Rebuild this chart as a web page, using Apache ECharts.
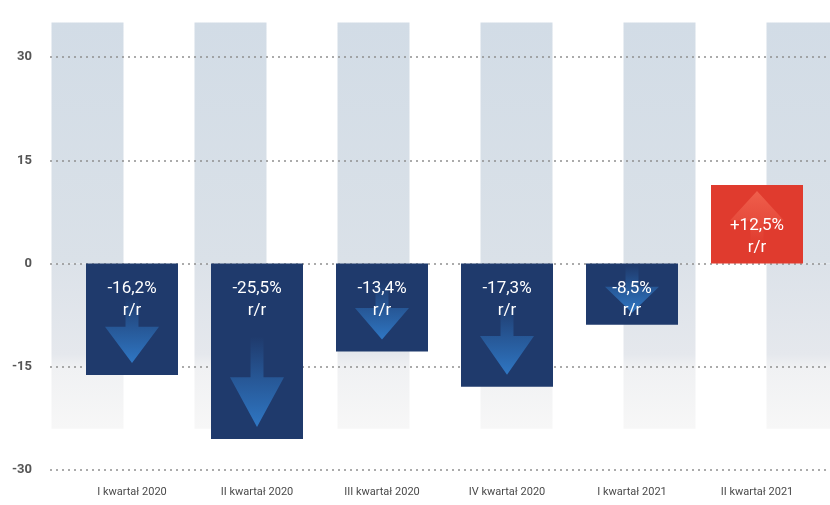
<!DOCTYPE html>
<html>
<head>
<meta charset="utf-8">
<script src="https://cdn.jsdelivr.net/npm/echarts@6/dist/echarts.min.js"></script>
<style>
  html, body { margin: 0; padding: 0; background: #fff; }
  #chart { width: 830px; height: 505px; }
</style>
</head>
<body>
<div id="chart"></div>
<script>
// data
var quarters = ['I kwartał 2020', 'II kwartał 2020', 'III kwartał 2020', 'IV kwartał 2020', 'I kwartał 2021', 'II kwartał 2021'];
var change = [-16.2, -25.5, -13.4, -17.3, -8.5, 12.5];        // printed labels
var barHeight = [-16.2, -25.5, -12.8, -17.9, -8.9, 11.4];     // as drawn in the picture
var yTicks = [-30, -15, 0, 15, 30];
// decorative grey columns behind the bars
var bgTop = [35, 35, 35, 35, 35, 35];
var bgBottom = [-24, -24, -24, -24, -24, -24];

var upArrow = 'path://M50,0 L100,55 L62,55 L62,100 L38,100 L38,55 L0,55 Z';

var fmt = function (v) {
  return (v > 0 ? '+' : '') + v.toFixed(1).replace('.', ',') + '%\nr/r';
};

var grad = function (stops) {
  return new echarts.graphic.LinearGradient(0, 0, 0, 1, stops);
};

var chart = echarts.init(document.getElementById('chart'));
var option = {
  animation: false,
  backgroundColor: '#ffffff',
  grid: [
    { left: 16, width: 858, top: 57, bottom: 35, outerBoundsMode: 'none' },
    { left: 50, right: 0, top: 57, bottom: 35, outerBoundsMode: 'none' },
    { left: 69.5, width: 750, top: 57, bottom: 35, outerBoundsMode: 'none' }
  ],
  xAxis: [
    { gridIndex: 0, type: 'category', data: quarters, show: false },
    { gridIndex: 1, type: 'value', show: false },
    {
      gridIndex: 2, type: 'category', data: quarters,
      axisLine: { show: false }, axisTick: { show: false },
      axisLabel: { color: '#4a4a4a', fontSize: 11, fontFamily: 'Roboto', margin: 17 }
    }
  ],
  yAxis: [
    { gridIndex: 0, type: 'value', min: -30, max: 30, show: false },
    {
      gridIndex: 1, type: 'value', min: yTicks[0], max: yTicks[yTicks.length - 1], interval: 15, z: 2,
      axisLine: { show: false }, axisTick: { show: false },
      axisLabel: { color: '#555', fontSize: 13, fontWeight: 'bold', fontFamily: 'Roboto', margin: 18 },
      splitLine: { lineStyle: { color: '#909090', type: [2, 4], width: 1.5 } }
    },
    { gridIndex: 2, type: 'value', min: -30, max: 30, show: false }
  ],
  series: [
    {
      type: 'bar', xAxisIndex: 0, yAxisIndex: 0, data: bgTop, barWidth: 72, barGap: '-100%', z: 1,
      clip: false, silent: true,
      itemStyle: { color: grad([{ offset: 0, color: '#d2dce6' }, { offset: 1, color: '#dae1e8' }]) }
    },
    {
      type: 'bar', xAxisIndex: 0, yAxisIndex: 0, data: bgBottom, barWidth: 72, z: 1, silent: true,
      itemStyle: {
        color: grad([
          { offset: 0, color: '#dce2e9' },
          { offset: 0.55, color: '#e5e8ed' },
          { offset: 0.63, color: '#f0f1f3' },
          { offset: 1, color: '#f7f7f7' }
        ])
      }
    },
    {
      type: 'bar', xAxisIndex: 2, yAxisIndex: 2, barWidth: 92, barGap: '-100%', z: 3,
      data: barHeight.map(function (v) {
        return { value: v, itemStyle: { color: v < 0 ? '#1f3a6c' : '#e03b2e' } };
      })
    },
    {
      // pictorialBar flips the symbol for negative values, so one up-pointing path serves both
      type: 'pictorialBar', xAxisIndex: 2, yAxisIndex: 2, z: 4, symbolPosition: 'end', symbol: upArrow,
      symbolSize: function (v) { return [54, Math.abs(v) * 2.6 + 24]; },
      data: barHeight.map(function (v) {
        return {
          value: v,
          symbolOffset: [0, v < 0 ? -12 : 6],
          itemStyle: {
            color: v < 0
              ? grad([{ offset: 0, color: '#2f77c4' }, { offset: 0.5, color: 'rgba(46,115,190,0.55)' }, { offset: 1, color: 'rgba(46,115,190,0)' }])
              : grad([{ offset: 0, color: '#ef5f4c' }, { offset: 0.6, color: 'rgba(236,90,72,0.5)' }, { offset: 1, color: 'rgba(236,90,72,0)' }])
          }
        };
      })
    },
    {
      type: 'bar', xAxisIndex: 2, yAxisIndex: 2, barWidth: 92, z: 5, silent: true,
      itemStyle: { color: 'rgba(0,0,0,0)' },
      data: barHeight.map(function (v, i) {
        return {
          value: v,
          label: {
            show: true, position: v < 0 ? 'insideTop' : 'insideBottom', distance: v < 0 ? 14 : 5,
            formatter: fmt(change[i]), color: '#ffffff', fontSize: 17, lineHeight: 22, fontFamily: 'Roboto'
          }
        };
      })
    }
  ]
};
chart.setOption(option);
</script>
</body>
</html>
